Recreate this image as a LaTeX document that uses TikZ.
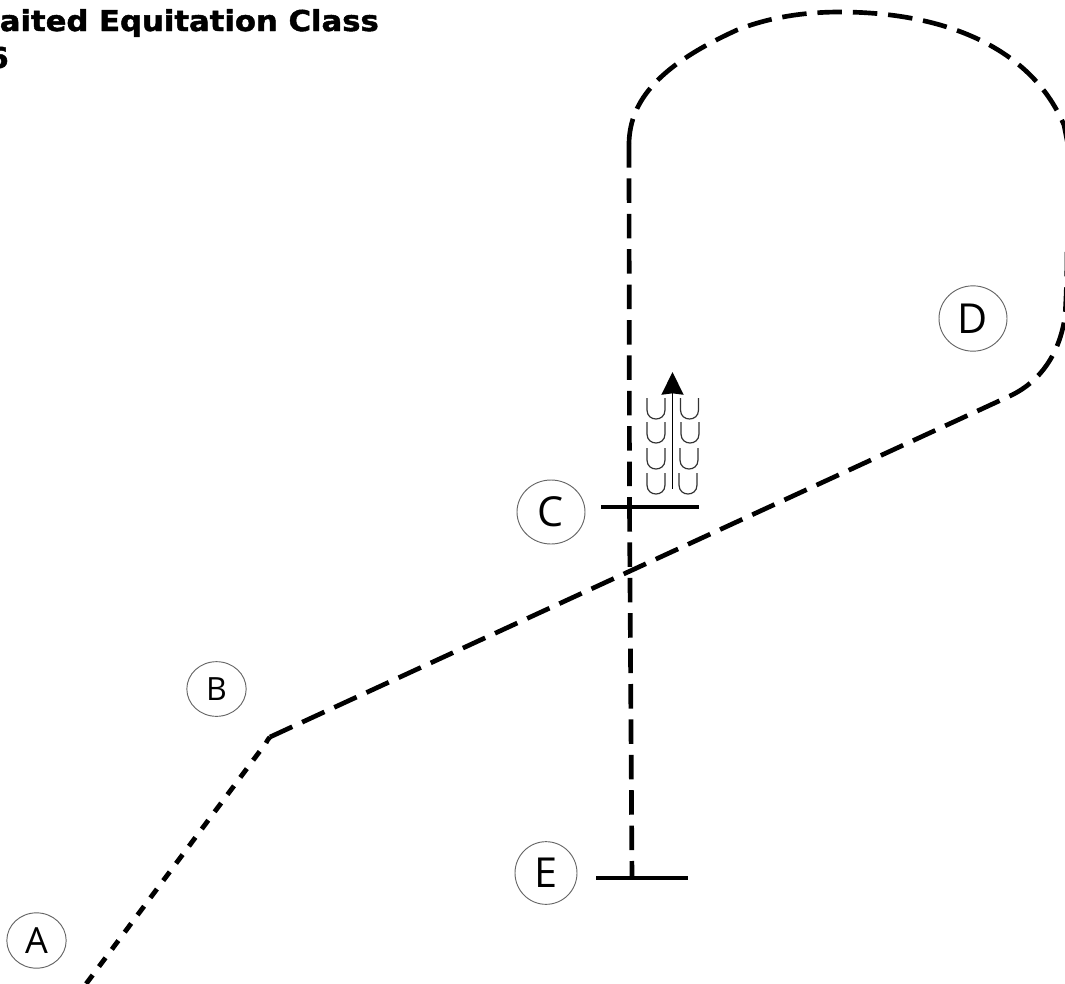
\documentclass[tikz,border=0pt]{standalone}
\usepackage{fontspec}
\setmainfont{Open Sans}
\newfontfamily\titlefont[FakeBold=1.6,FakeStretch=1.07]{DejaVu Sans Bold}
\usetikzlibrary{positioning,arrows.meta,calc,shapes.geometric}
\definecolor{ring}{HTML}{666666}

\begin{document}
\begin{tikzpicture}[x=0.75pt,y=-0.75pt,
      letterring/.style={draw=ring,line width=0.7pt,shape=ellipse,inner sep=0pt,text=black},
      route/.style={line width=3.5pt,dash pattern=on 18.4pt off 8.15pt},
      walkroute/.style={line width=3.6pt,dash pattern=on 8.2pt off 7.9pt,dash phase=8.2pt},
      bar/.style={line width=3pt},
      hoof/.style={line width=0.9pt,draw=black!80},
      heading/.style={font=\titlefont\fontsize{21.5}{21.5}\selectfont,anchor=base east,inner sep=0pt}]
    \useasboundingbox (0,0) rectangle (1065,983);
    \clip (0,0) rectangle (1065,983);
    \node[heading] (title) at (379,31) {aited Equitation Class};
    \node[heading] (titleb) at (9,68) {6};
    \node[letterring,minimum width=44.5pt,minimum height=41.5pt,font=\fontsize{27}{27}\selectfont] (A) at (36.5,940.5) {A};
    \node[letterring,minimum width=44.5pt,minimum height=41pt,font=\fontsize{24}{24}\selectfont] (B) at (216.5,689) {B};
    \node[letterring,minimum width=51pt,minimum height=48pt,font=\fontsize{31}{31}\selectfont] (C) at (551,512) {C};
    \node[letterring,minimum width=51pt,minimum height=49pt,font=\fontsize{31}{31}\selectfont] (D) at (973,318.5) {D};
    \node[letterring,minimum width=46.5pt,minimum height=47pt,font=\fontsize{31}{31}\selectfont] (E) at (546,873) {E};
    \coordinate (start) at (80,992);
    \coordinate (bend) at (266,743);
    \coordinate (bendtop) at (270,737);
    \coordinate (cl) at (601,507);
    \coordinate (cr) at (699,507);
    \coordinate (el) at (596,878);
    \coordinate (er) at (688,878);
    \coordinate (cross) at (629.5,507);
    \coordinate (stop) at (632,878);
    \coordinate (loop) at (629,143);
    % bars at C and E
    \draw[bar] (cl) -- (cr);
    \draw[bar] (el) -- (er);
    % the track, piece by piece
    \draw[walkroute] (bend) -- (start);
    \draw[bar,line width=3.5pt] (bend) .. controls (267,741) and (268,739) .. (bendtop);
    \draw[route] (bendtop) -- (1012,395)
      .. controls (1040,381) and (1059,355) .. (1065,317)
      .. controls (1066,300) and (1067,280) .. (1067,250);
    \draw[route] (cross) -- (stop);
    \draw[route] (loop) -- (cross);
    \draw[route] (loop) .. controls (630,100) and (660,65) .. (737,30)
      .. controls (770,17) and (805,12) .. (840,12)
      .. controls (940,12) and (1030,45) .. (1064,125) -- (1071,160);
    % arrow and hoof prints
    \draw[-{Stealth[length=17pt,width=16.5pt,inset=1pt]},line width=1.1pt] (672.5,489) -- (672.5,372);
    \foreach \x/\y in {656/398,656/422,656/448,656/473,689.5/398,690/422,689/448,688/473}
      \draw[hoof] (\x-9,\y) -- (\x-9,\y+12) .. controls (\x-9,\y+24) and (\x+9,\y+24) .. (\x+9,\y+12) -- (\x+9,\y);
  \end{tikzpicture}
\end{document}
